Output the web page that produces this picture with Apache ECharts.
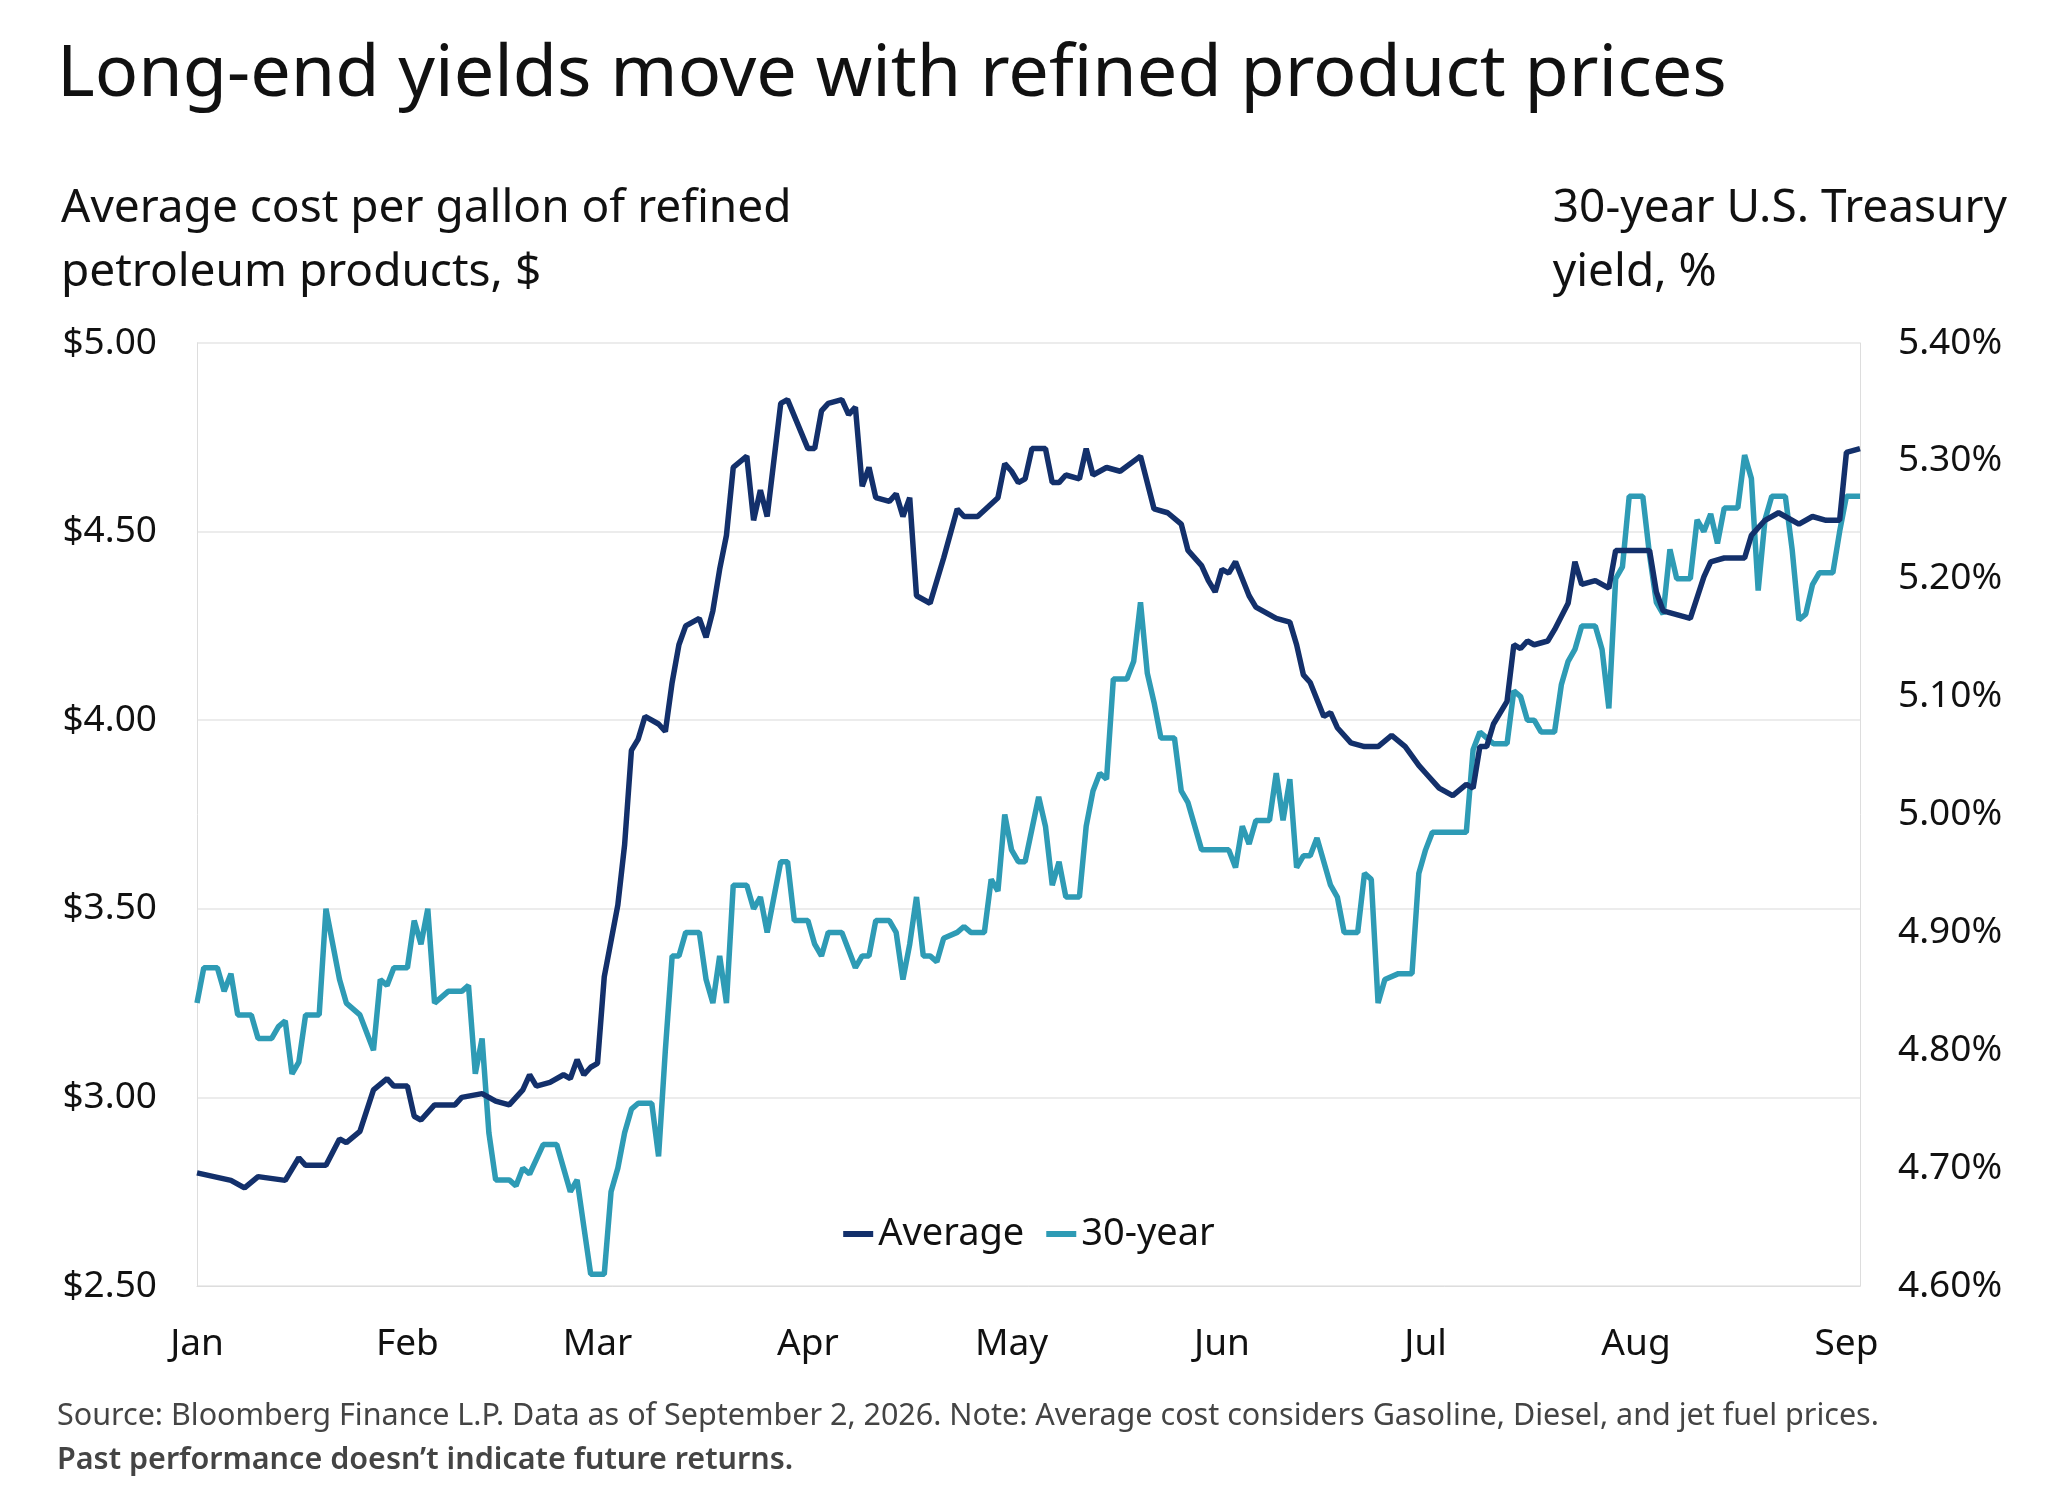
<!DOCTYPE html>
<html><head><meta charset="utf-8">
<script src="https://cdn.jsdelivr.net/npm/echarts@6/dist/echarts.min.js"></script>
<style>html,body{margin:0;padding:0;background:#fff}#c{width:2058px;height:1504px}</style>
</head><body><div id="c"></div>
<script>
var avgDays=[0,5,7,9,13,15,16,19,21,22,24,26,28,29,31,32,33,35,38,39,42,44,46,48,49,50,52,54,55,56,57,58,59,60,62,63,64,65,66,68,69,70,71,72,74,75,76,77,78,79,81,82,83,84,86,87,90,91,92,93,95,96,97,98,99,100,102,103,104,105,106,108,110,112,113,115,118,119,120,121,122,123,125,126,127,128,130,131,132,134,136,139,141,143,145,146,148,149,150,151,152,153,155,156,158,159,161,162,163,164,166,167,168,170,172,173,174,176,178,180,181,183,185,187,188,189,190,191,193,194,195,196,197,199,200,202,203,204,206,208,209,212,214,215,216,218,220,222,223,225,228,229,231,233,234,236,238,240,242,243,245];
var avgValues=[2.80,2.78,2.76,2.79,2.78,2.84,2.82,2.82,2.89,2.88,2.91,3.02,3.05,3.03,3.03,2.95,2.94,2.98,2.98,3.00,3.01,2.99,2.98,3.02,3.06,3.03,3.04,3.06,3.05,3.10,3.06,3.08,3.09,3.32,3.51,3.67,3.92,3.95,4.01,3.99,3.97,4.10,4.20,4.25,4.27,4.22,4.29,4.40,4.49,4.67,4.70,4.53,4.61,4.54,4.84,4.85,4.72,4.72,4.82,4.84,4.85,4.81,4.83,4.62,4.67,4.59,4.58,4.60,4.54,4.59,4.33,4.31,4.43,4.56,4.54,4.54,4.59,4.68,4.66,4.63,4.64,4.72,4.72,4.63,4.63,4.65,4.64,4.72,4.65,4.67,4.66,4.70,4.56,4.55,4.52,4.45,4.41,4.37,4.34,4.40,4.39,4.42,4.33,4.30,4.28,4.27,4.26,4.20,4.12,4.10,4.01,4.02,3.98,3.94,3.93,3.93,3.93,3.96,3.93,3.88,3.86,3.82,3.80,3.83,3.82,3.93,3.93,3.99,4.05,4.20,4.19,4.21,4.20,4.21,4.24,4.31,4.42,4.36,4.37,4.35,4.45,4.45,4.45,4.34,4.29,4.28,4.27,4.38,4.42,4.43,4.43,4.49,4.53,4.55,4.54,4.52,4.54,4.53,4.53,4.71,4.72];
var yldDays=[0,1,3,4,5,6,8,9,11,12,13,14,15,16,18,19,21,22,24,26,27,28,29,31,32,33,34,35,37,39,40,41,42,43,44,46,47,48,49,51,53,54,55,56,57,58,60,61,62,63,64,65,67,68,69,70,71,72,74,75,76,77,78,79,81,82,83,84,85,86,87,88,90,91,92,93,95,96,97,98,99,100,102,103,104,105,106,107,108,109,110,112,113,114,116,117,118,119,120,121,122,124,125,126,127,128,130,131,132,133,134,135,137,138,139,140,141,142,144,145,146,148,150,152,153,154,155,156,158,159,160,161,162,163,164,165,167,168,169,171,172,173,174,175,177,179,180,181,182,183,187,188,189,190,191,193,194,195,196,197,198,200,201,202,203,204,206,207,208,209,210,211,213,214,215,216,217,218,220,221,222,223,224,225,227,228,229,230,231,232,234,235,236,237,238,239,241,242,243,245];
var yldValues=[4.84,4.87,4.87,4.85,4.865,4.83,4.83,4.81,4.81,4.82,4.825,4.78,4.79,4.83,4.83,4.92,4.86,4.84,4.83,4.80,4.86,4.855,4.87,4.87,4.91,4.89,4.92,4.84,4.85,4.85,4.855,4.78,4.81,4.73,4.69,4.69,4.685,4.70,4.695,4.72,4.72,4.70,4.68,4.69,4.65,4.61,4.61,4.68,4.70,4.73,4.75,4.755,4.755,4.71,4.80,4.88,4.88,4.90,4.90,4.86,4.84,4.88,4.84,4.94,4.94,4.92,4.93,4.90,4.93,4.96,4.96,4.91,4.91,4.89,4.88,4.90,4.90,4.885,4.87,4.88,4.88,4.91,4.91,4.90,4.86,4.89,4.93,4.88,4.88,4.875,4.895,4.90,4.905,4.90,4.90,4.945,4.935,5.00,4.97,4.96,4.96,5.015,4.99,4.94,4.96,4.93,4.93,4.99,5.02,5.035,5.03,5.115,5.115,5.13,5.18,5.12,5.095,5.065,5.065,5.02,5.01,4.97,4.97,4.97,4.955,4.99,4.975,4.995,4.995,5.035,4.995,5.03,4.955,4.965,4.965,4.98,4.94,4.93,4.90,4.90,4.95,4.945,4.84,4.86,4.865,4.865,4.95,4.97,4.985,4.985,4.985,5.055,5.07,5.065,5.06,5.06,5.105,5.10,5.08,5.08,5.07,5.07,5.11,5.13,5.14,5.16,5.16,5.14,5.09,5.20,5.21,5.27,5.27,5.22,5.18,5.17,5.225,5.20,5.20,5.25,5.24,5.255,5.23,5.26,5.26,5.305,5.285,5.19,5.25,5.27,5.27,5.225,5.165,5.17,5.195,5.205,5.205,5.24,5.27,5.27];
var monthLabels=['Jan','Feb','Mar','Apr','May','Jun','Jul','Aug','Sep','Oct','Nov','Dec'];
var leftTicks={min:2.5,max:5,interval:0.5};
var rightTicks={min:4.6,max:5.4,interval:0.1};

function toTs(d){return Date.UTC(2026,0,1)+d*86400000;}
var avgData=avgDays.map(function(d,i){return [toTs(d),avgValues[i]];});
var yldData=yldDays.map(function(d,i){return [toTs(d),yldValues[i]];});
var F='"Noto Sans", sans-serif';
var navy='#13306b', teal='#2e9bb5';
var chart=echarts.init(document.getElementById('c'));
chart.setOption({
  useUTC:true,animation:false,
  title:[
    {text:'Long-end yields move with refined product prices',left:52,top:34,textStyle:{fontFamily:F,fontSize:72,fontWeight:'normal',color:'#111'}},
    {text:'Average cost per gallon of refined\npetroleum products, $',left:56,top:172,textStyle:{fontFamily:F,fontSize:46,fontWeight:'normal',color:'#111',lineHeight:64}},
    {text:'30-year U.S. Treasury\nyield, %',right:46,top:172,textStyle:{fontFamily:F,fontSize:46,fontWeight:'normal',color:'#111',lineHeight:64,align:'right'}},
    {text:'Source: Bloomberg Finance L.P. Data as of September 2, 2026. Note: Average cost considers Gasoline, Diesel, and jet fuel prices.',left:52,top:1396,textStyle:{fontFamily:F,fontSize:30.5,fontWeight:'normal',color:'#444'}},
    {text:'Past performance doesn\u2019t indicate future returns.',left:52,top:1440,textStyle:{fontFamily:F,fontSize:30.5,fontWeight:600,color:'#444'}}
  ],
  legend:{left:'center',top:1210,itemWidth:30,itemHeight:6,itemGap:22,icon:'rect',textStyle:{fontFamily:F,fontSize:38,color:'#111'},data:['Average','30-year']},
  grid:{left:197,right:198,top:343,bottom:218},
  xAxis:{type:'time',min:toTs(0),max:toTs(245),
    axisLine:{show:true,lineStyle:{color:'#ddd'}},axisTick:{show:false},splitLine:{show:false},
    axisLabel:{fontFamily:F,fontSize:37,color:'#111',margin:40,formatter:function(v){var d=new Date(v);return d.getUTCDate()===1?monthLabels[d.getUTCMonth()]:'';}},
    minInterval:28*86400000},
  yAxis:[
    {type:'value',min:leftTicks.min,max:leftTicks.max,interval:leftTicks.interval,position:'left',
     axisLine:{show:true,lineStyle:{color:'#ddd'}},axisTick:{show:false},
     splitLine:{lineStyle:{color:'#e6e6e6',width:1.5}},
     axisLabel:{fontFamily:F,fontSize:37,color:'#111',margin:40,formatter:function(v){return '$'+v.toFixed(2);}}},
    {type:'value',min:rightTicks.min,max:rightTicks.max,interval:rightTicks.interval,position:'right',
     axisLine:{show:true,lineStyle:{color:'#ddd'}},axisTick:{show:false},splitLine:{show:false},
     axisLabel:{fontFamily:F,fontSize:37,color:'#111',margin:38,formatter:function(v){return v.toFixed(2)+'%';}}}
  ],
  series:[
    {name:'Average',type:'line',yAxisIndex:0,data:avgData,showSymbol:false,lineStyle:{color:navy,width:5.5},itemStyle:{color:navy},z:3},
    {name:'30-year',type:'line',yAxisIndex:1,data:yldData,showSymbol:false,lineStyle:{color:teal,width:5.5},itemStyle:{color:teal},z:2}
  ]
});
</script></body></html>
